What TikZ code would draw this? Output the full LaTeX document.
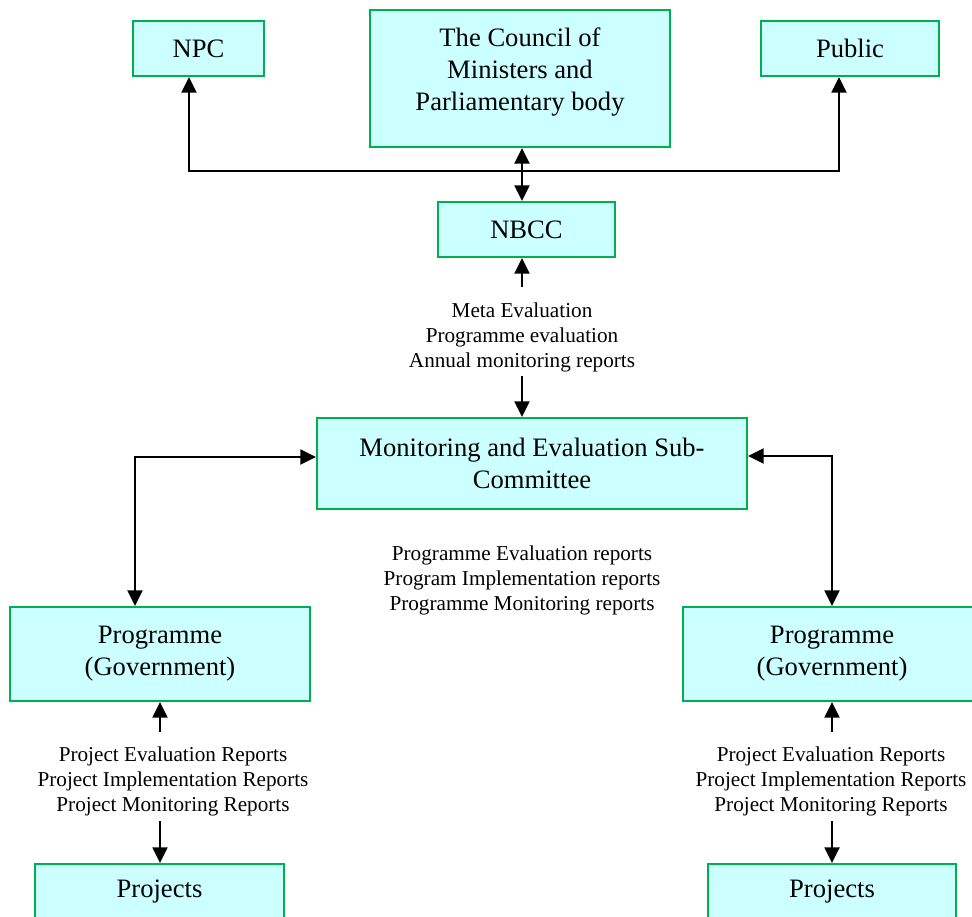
\documentclass[tikz,border=0pt]{standalone}
\usepackage{fontspec}
\setmainfont{Liberation Serif}
\usetikzlibrary{arrows.meta}
\definecolor{boxcyan}{HTML}{CCFFFF}
\definecolor{boxgreen}{HTML}{00B050}
\newcommand\boxfont{\fontsize{13.3}{16}\selectfont}
\newcommand\notefont{\fontsize{10.6}{12.5}\selectfont}
\tikzset{
	orgbox/.style={draw=boxgreen, fill=boxcyan, line width=1pt, align=center, font=\boxfont, inner sep=0pt},
	note/.style={align=center, font=\notefont, inner sep=0pt},
	link/.style={line width=1pt}
}
\begin{document}
\begin{tikzpicture}[x=0.5pt,y=-0.5pt,>={Triangle[length=7.8pt,width=7.5pt]}]
	\useasboundingbox (0,0) rectangle (972,916);
		\node[orgbox, minimum width=65.5pt, minimum height=27.5pt] (npc) at (198.5,48.5) {NPC};
		\node[orgbox, minimum width=150pt, minimum height=68.5pt] (council) at (520,78.5) {};
		\node[note, font=\boxfont] (counciltxt) at (520,71.7) {The Council of\\Ministers and\\Parliamentary body};
		\node[orgbox, minimum width=89pt, minimum height=27.5pt] (public) at (850,48.5) {Public};
		\node[orgbox, minimum width=88.5pt, minimum height=27.5pt] (nbcc) at (526.5,229.5) {NBCC};
		\coordinate (hub) at (522,171);
		\node[note] (metatxt) at (522,337) {Meta Evaluation\\Programme evaluation\\Annual monitoring reports};
		\node[orgbox, minimum width=215pt, minimum height=45.5pt] (mande) at (532,463.5) {Monitoring and Evaluation Sub-\\Committee};
		\node[note] (progtxt) at (522,580) {Programme Evaluation reports\\Program Implementation reports\\Programme Monitoring reports};
		\node[orgbox, minimum width=150pt, minimum height=47pt] (progL) at (160,654) {Programme\\(Government)};
		\node[orgbox, minimum width=149pt, minimum height=47pt] (progR) at (832,654) {Programme\\(Government)};
		\node[note] (projtxtL) at (173,781) {Project Evaluation Reports\\Project Implementation Reports\\Project Monitoring Reports};
		\node[note] (projtxtR) at (831,781) {Project Evaluation Reports\\Project Implementation Reports\\Project Monitoring Reports};
		\node[orgbox, minimum width=124.5pt, minimum height=28pt] (projL) at (159.5,892) {Projects};
		\node[orgbox, minimum width=124pt, minimum height=28pt] (projR) at (832,892) {Projects};
		\draw[link, <->] (council.south -| hub) -- (nbcc.north -| hub);
		\draw[link, ->] (hub) -| ([xshift=-4.75pt]npc.south);
		\draw[link, ->] (hub) -| ([xshift=-5.5pt]public.south);
		\draw[link, ->] ([yshift=7.25pt]metatxt.north) -- (nbcc.south -| metatxt);
		\draw[link, ->] ([yshift=-2.2pt]metatxt.south) -- (mande.north -| metatxt);
		\draw[link, <->] ([yshift=3.25pt]mande.west) -| ([xshift=-12.5pt]progL.north);
		\draw[link, <->] ([yshift=3.75pt]mande.east) -| (progR.north);
		\draw[link, ->] ([yshift=6.75pt]projtxtL.north -| progL) -- (progL.south);
		\draw[link, ->] ([yshift=-2.7pt]projtxtL.south -| progL) -- (projL.north -| progL);
		\draw[link, ->] ([yshift=6.75pt]projtxtR.north -| progR) -- (progR.south);
		\draw[link, ->] ([yshift=-2.7pt]projtxtR.south -| progR) -- (projR.north -| progR);
\end{tikzpicture}
\end{document}
